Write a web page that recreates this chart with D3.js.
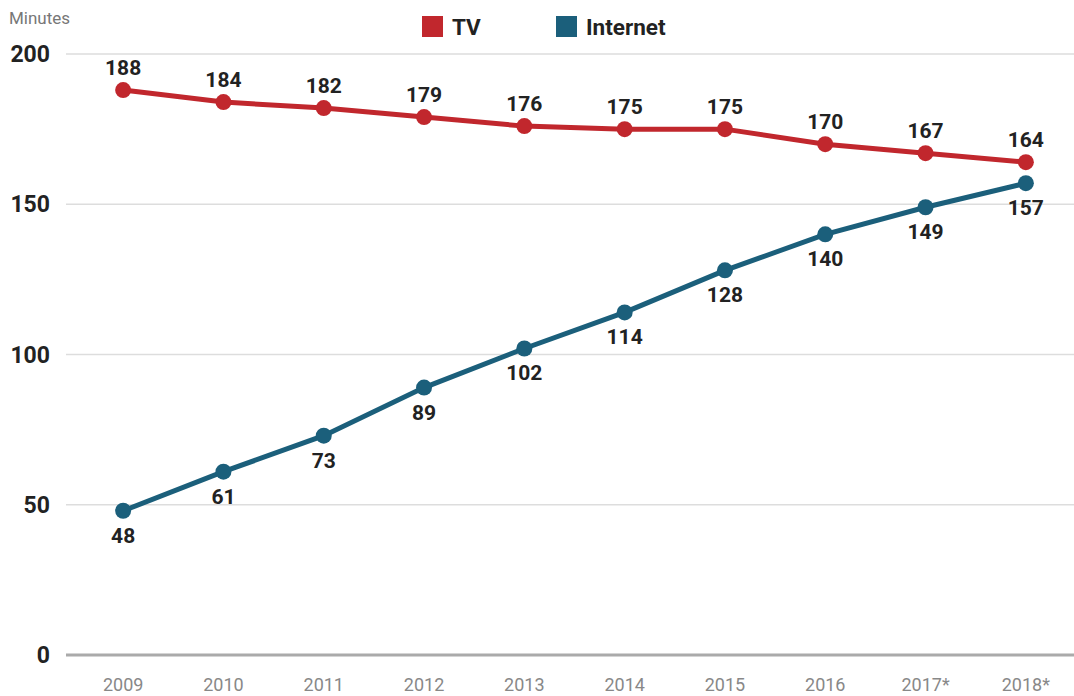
<!DOCTYPE html>
<html>
<head>
<meta charset="utf-8">
<script src="https://cdn.jsdelivr.net/npm/d3@7"></script>
<style>
  body { margin: 0; background: #fff; font-family: Roboto, sans-serif; }
</style>
</head>
<body>
<script>
// data
const years = ['2009', '2010', '2011', '2012', '2013', '2014', '2015', '2016', '2017*', '2018*'];
const tvValues = [188, 184, 182, 179, 176, 175, 175, 170, 167, 164];
const internetValues = [48, 61, 73, 89, 102, 114, 128, 140, 149, 157];
const yTicks = [0, 50, 100, 150, 200];

const width = 1074;
const height = 696;

var svg = d3.select('body').append('svg')
  .attr('width', width)
  .attr('height', height);

var x = d3.scalePoint()
  .domain(years)
  .range([73, 1076])
  .padding(0.5);

var y = d3.scaleLinear()
  .domain([0, 200])
  .range([655, 54]);

// grid lines
svg.selectAll('.grid')
  .data(yTicks)
  .enter().append('line')
  .attr('x1', 66)
  .attr('x2', width)
  .attr('y1', d => y(d))
  .attr('y2', d => y(d))
  .style('stroke', d => d === 0 ? '#aaa' : '#ddd')
  .style('stroke-width', d => d === 0 ? 3 : 1.5);

// y tick labels
svg.selectAll('.ylab')
  .data(yTicks)
  .enter().append('text')
  .attr('x', 50)
  .attr('y', d => y(d) + 8)
  .style('text-anchor', 'end')
  .style('font-size', '23px')
  .style('font-weight', 'bold')
  .style('fill', '#222')
  .text(d => d);

// axis title
svg.append('text')
  .attr('x', 9)
  .attr('y', 24)
  .style('font-size', '17px')
  .style('fill', '#777')
  .text('Minutes');

// x labels
svg.selectAll('.xlab')
  .data(years)
  .enter().append('text')
  .attr('x', d => x(d))
  .attr('y', 691)
  .style('text-anchor', 'middle')
  .style('font-size', '18px')
  .style('fill', '#888')
  .text(d => d);

// legend
var legend = [
  {name: 'TV', color: '#c1272d', x: 422},
  {name: 'Internet', color: '#1b5f7b', x: 556}
];
svg.selectAll('.legbox')
  .data(legend)
  .enter().append('rect')
  .attr('x', d => d.x)
  .attr('y', 16)
  .attr('width', 21)
  .attr('height', 21)
  .style('fill', d => d.color);
svg.selectAll('.legtext')
  .data(legend)
  .enter().append('text')
  .attr('x', d => d.x + 30)
  .attr('y', 35)
  .style('font-size', '22.5px')
  .style('font-weight', 'bold')
  .style('fill', '#222')
  .text(d => d.name);

// series
function drawSeries(values, color, labelDy) {
  var pts = years.map((yr, i) => ({year: yr, value: values[i]}));
  var line = d3.line()
    .x(d => x(d.year))
    .y(d => y(d.value));
  svg.append('path')
    .datum(pts)
    .attr('d', line)
    .style('fill', 'none')
    .style('stroke', color)
    .style('stroke-width', 5);
  svg.selectAll(null)
    .data(pts)
    .enter().append('circle')
    .attr('cx', d => x(d.year))
    .attr('cy', d => y(d.value))
    .attr('r', 8)
    .style('fill', color);
  svg.selectAll(null)
    .data(pts)
    .enter().append('text')
    .attr('x', d => x(d.year))
    .attr('y', d => y(d.value) + labelDy)
    .style('text-anchor', 'middle')
    .style('font-size', '21px')
    .style('font-weight', 'bold')
    .style('fill', '#222')
    .text(d => d.value);
}

drawSeries(tvValues, '#c1272d', -15);
drawSeries(internetValues, '#1b5f7b', 32);
</script>
</body>
</html>
